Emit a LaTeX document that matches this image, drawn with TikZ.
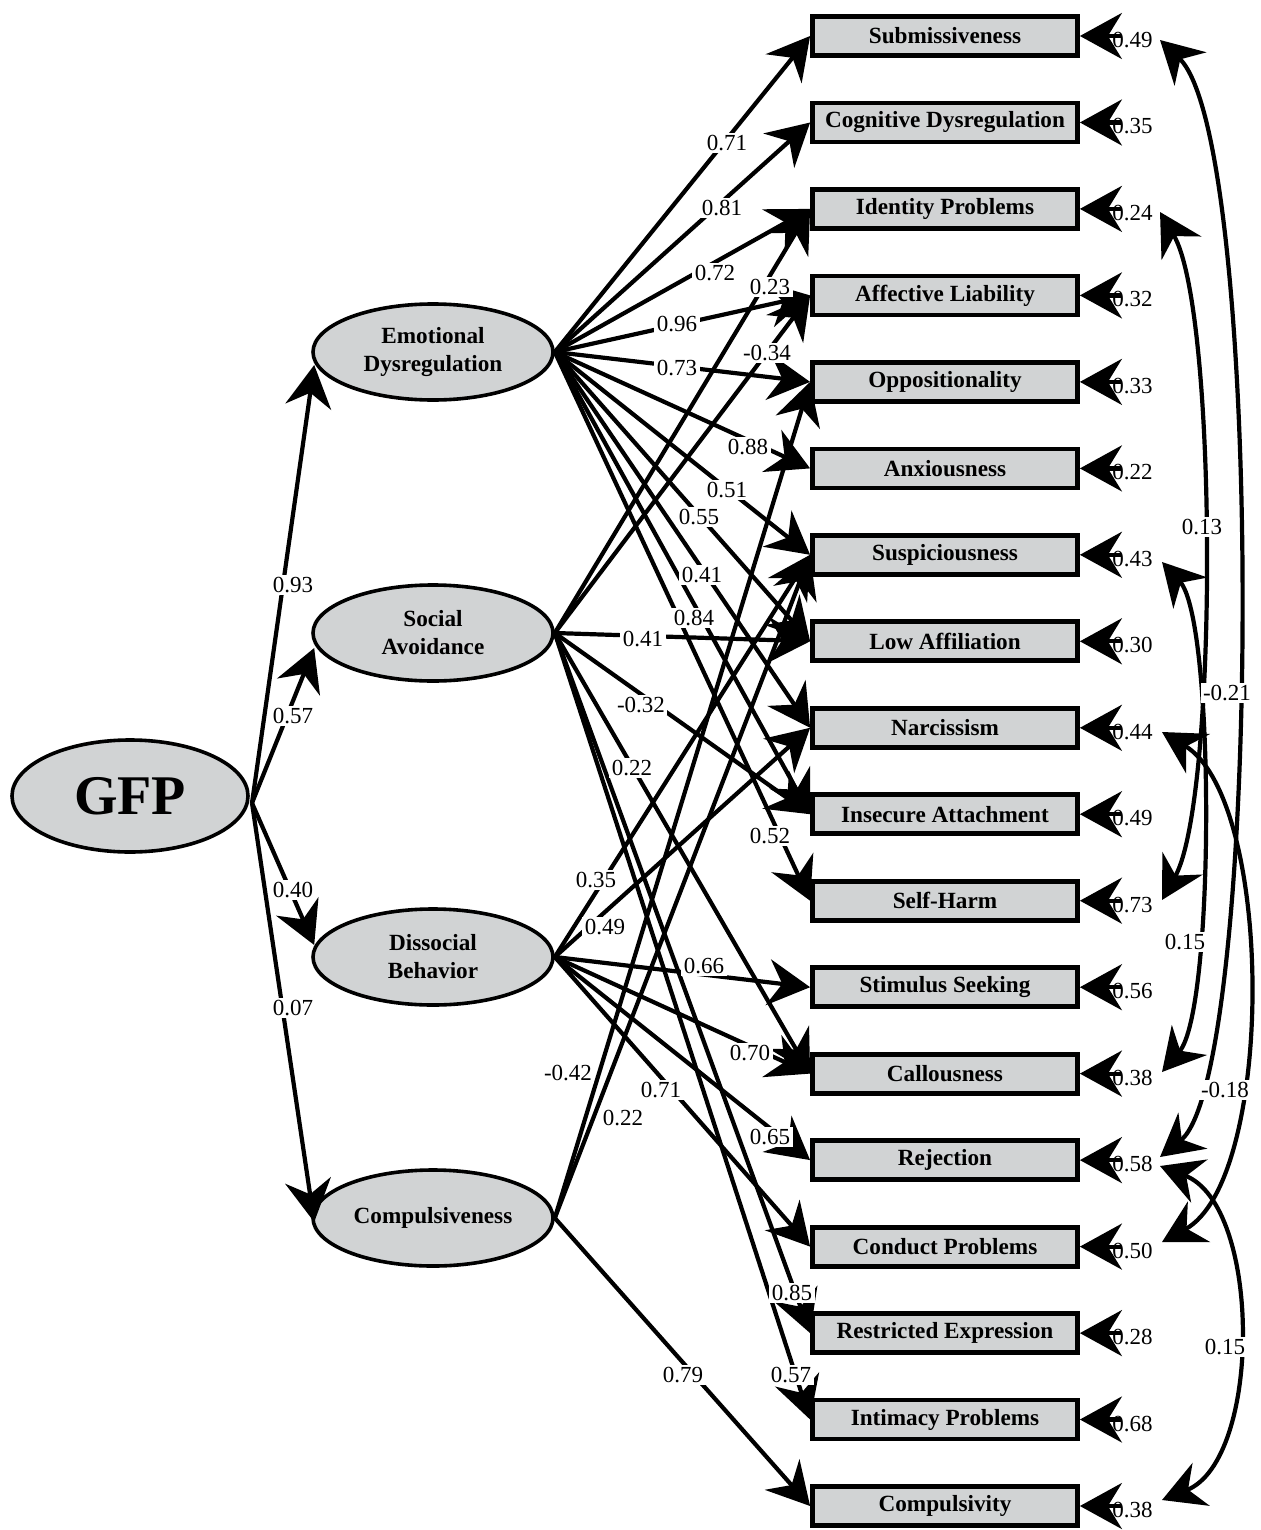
\documentclass[tikz,border=0pt]{standalone}
\usepackage{fontspec}
\setmainfont{Liberation Serif}
\usetikzlibrary{shapes.geometric,arrows.meta,calc}
\definecolor{boxgray}{RGB}{209,211,212}
\begin{document}
\begin{tikzpicture}[x=0.5pt,y=-0.5pt,
  bigtip/.tip={Stealth[length=21pt,width=23pt,inset=7pt]},
  obs/.style={rectangle,draw,line width=2.4pt,fill=boxgray,minimum width=132.5pt,minimum height=19.5pt,inner sep=0pt,font=\fontsize{11.6}{13}\selectfont\bfseries},
  lat/.style={ellipse,draw,line width=1.8pt,fill=boxgray,minimum width=120pt,minimum height=48pt,inner sep=0pt,align=center,font=\fontsize{11.6}{14}\selectfont\bfseries},
  ld/.style={line width=2.1pt,-bigtip},
  err/.style={line width=2.1pt,-bigtip},
  cov/.style={line width=2.1pt,bigtip-bigtip},
  lbl/.style={fill=white,inner sep=1.2pt,font=\fontsize{11.5}{13}\selectfont},
  vl/.style={inner sep=0pt,anchor=west,font=\fontsize{11.5}{13}\selectfont},
]
\useasboundingbox (0,0) rectangle (1261,1530);

% latent variables
\node[lat,minimum width=118pt,minimum height=56pt,font=\fontsize{28}{30}\selectfont\bfseries] (GFP) at (130,796) {GFP};
\node[lat] (ED) at (433,352) {Emotional\\Dysregulation};
\node[lat] (SA) at (433,633) {Social\\Avoidance};
\node[lat] (DB) at (433,957) {Dissocial\\Behavior};
\node[lat] (CO) at (433,1218) {Compulsiveness};

% observed variables
\node[obs] (b1) at (945,36) {Submissiveness};
\node[obs] (b2) at (945,122.5) {Cognitive Dysregulation};
\node[obs] (b3) at (945,208.9) {Identity Problems};
\node[obs] (b4) at (945,295.4) {Affective Liability};
\node[obs] (b5) at (945,381.9) {Oppositionality};
\node[obs] (b6) at (945,468.4) {Anxiousness};
\node[obs] (b7) at (945,554.8) {Suspiciousness};
\node[obs] (b8) at (945,641.3) {Low Affiliation};
\node[obs] (b9) at (945,727.8) {Narcissism};
\node[obs] (b10) at (945,814.2) {Insecure Attachment};
\node[obs] (b11) at (945,900.7) {Self-Harm};
\node[obs] (b12) at (945,987.2) {Stimulus Seeking};
\node[obs] (b13) at (945,1073.6) {Callousness};
\node[obs] (b14) at (945,1160.1) {Rejection};
\node[obs] (b15) at (945,1246.6) {Conduct Problems};
\node[obs] (b16) at (945,1333.1) {Restricted Expression};
\node[obs] (b17) at (945,1419.5) {Intimacy Problems};
\node[obs] (b18) at (945,1506) {Compulsivity};

% GFP paths
\coordinate (g0) at (252,803);
\draw[ld] (g0) -- ($(ED.west)+(3,13)$);
\draw[ld] (g0) -- ($(SA.west)+(3,15)$);
\draw[ld] (g0) -- ($(DB.west)+(3,-12)$);
\draw[ld] (g0) -- ($(CO.west)+(3,4)$);

% Emotional Dysregulation loadings
\foreach \b in {b1,b2,b3,b4,b5,b6,b7,b8,b9,b10,b11}
  \draw[ld] (ED.east) -- (\b.west);
% Social Avoidance loadings
\foreach \b in {b3,b4,b8,b10,b13,b16,b17}
  \draw[ld] (SA.east) -- (\b.west);
% Dissocial Behavior loadings
\foreach \b in {b7,b9,b12,b13,b14,b15}
  \draw[ld] (DB.east) -- (\b.west);
% Compulsiveness loadings
\foreach \b in {b5,b7,b18}
  \draw[ld] (CO.east) -- (\b.west);

% error variances
\foreach \i/\y/\t in {1/36/0.49,2/122.5/0.35,3/208.9/0.24,4/295.4/0.32,5/381.9/0.33,6/468.4/0.22,7/554.8/0.43,8/641.3/0.30,9/727.8/0.44,10/814.2/0.49,11/900.7/0.73,12/987.2/0.56,13/1073.6/0.38,14/1160.1/0.58,15/1246.6/0.50,16/1333.1/0.28,17/1419.5/0.68,18/1506/0.38}{
  \node[vl] (v\i) at (1112,\y+4) {\t};
  \coordinate (e\i) at (1121,\y);
  \draw[err] (e\i) -- (b\i.east);
}

% covariances
\coordinate (k1) at (1160,40);
\coordinate (k14a) at (1160,1157);
\coordinate (k14b) at (1160,1166);
\coordinate (k3) at (1160,212);
\coordinate (k11) at (1162,900);
\coordinate (k7) at (1162,562);
\coordinate (k13) at (1162,1072);
\coordinate (k9) at (1162,732);
\coordinate (k15) at (1162,1242);
\coordinate (k18) at (1162,1500);
\draw[cov] (k1) .. controls (1265,140) and (1262,1075) .. (k14a);
\draw[cov] (k3) .. controls (1218,310) and (1218,800) .. (k11);
\draw[cov] (k7) .. controls (1215,620) and (1215,1010) .. (k13);
\draw[cov] (k9) .. controls (1275,800) and (1275,1180) .. (k15);
\draw[cov] (k14b) .. controls (1262,1205) and (1262,1460) .. (k18);

% labels
\node[lbl] at (293,585) {0.93};
\node[lbl] at (293,716) {0.57};
\node[lbl] at (293,890) {0.40};
\node[lbl] at (293,1008) {0.07};

\node[lbl] at (727,143) {0.71};
\node[lbl] at (722,208) {0.81};
\node[lbl] at (715,273) {0.72};
\node[lbl] at (677,324) {0.96};
\node[lbl] at (677,368) {0.73};
\node[lbl] at (748,447) {0.88};
\node[lbl] at (727,490) {0.51};
\node[lbl] at (699,517) {0.55};
\node[lbl] at (702,575) {0.41};
\node[lbl] at (694,618) {0.84};
\node[lbl] at (770,836) {0.52};

\node[lbl] at (770,287) {0.23};
\node[lbl] at (767,353) {-0.34};
\node[lbl] at (643,639) {0.41};
\node[lbl] at (641,705) {-0.32};
\node[lbl] at (632,768) {0.22};
\node[lbl] at (792,1293) {0.85};
\node[lbl] at (791,1375) {0.57};

\node[lbl] at (596,880) {0.35};
\node[lbl] at (605,927) {0.49};
\node[lbl] at (704,966) {0.66};
\node[lbl] at (750,1053) {0.70};
\node[lbl] at (661,1090) {0.71};
\node[lbl] at (770,1137) {0.65};

\node[lbl] at (568,1073) {-0.42};
\node[lbl] at (623,1118) {0.22};
\node[lbl] at (683,1375) {0.79};

\node[lbl] at (1202,527) {0.13};
\node[lbl] at (1227,693) {-0.21};
\node[lbl] at (1185,942) {0.15};
\node[lbl] at (1225,1090) {-0.18};
\node[lbl] at (1225,1347) {0.15};
\end{tikzpicture}
\end{document}
